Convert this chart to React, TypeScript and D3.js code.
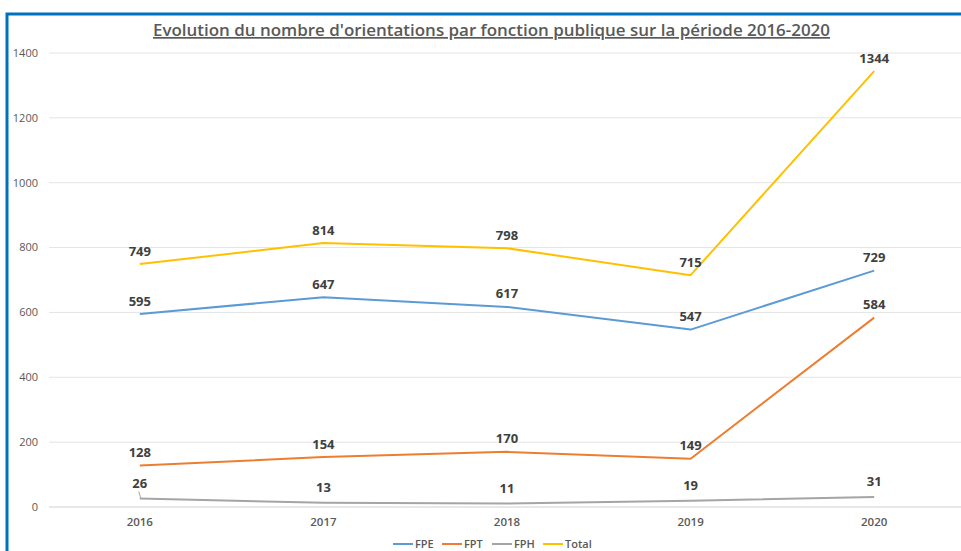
import React from "react";
import * as d3 from "d3";

const years = ["2016", "2017", "2018", "2019", "2020"];
const fpe = [595, 647, 617, 547, 729];
const fpt = [128, 154, 170, 149, 584];
const fph = [26, 13, 11, 19, 31];
const total = [749, 814, 798, 715, 1344];
const yTicks = [0, 200, 400, 600, 800, 1000, 1200, 1400];
const seriesNames = ["FPE", "FPT", "FPH", "Total"];
const seriesColors = ["#5B9BD5", "#ED7D31", "#A5A5A5", "#FFC000"];

const W = 961;
const H = 551;
const FONT = "'Open Sans', sans-serif";

export default function App() {
  const x = d3.scaleBand<string>().domain(years).range([48, 966]);
  const y = d3.scaleLinear().domain([0, 1400]).range([507, 53]);
  const cx = (yr: string) => (x(yr) as number) + x.bandwidth() / 2;
  const line = d3
    .line<number>()
    .x((_, i) => cx(years[i]))
    .y((d) => y(d));
  const allSeries = [fpe, fpt, fph, total];

  const legendX = [393, 442, 492, 543];

  return (
    <svg
      width={W}
      height={H}
      style={{ position: "absolute", left: 0, top: 0, background: "#fff" }}
      fontFamily={FONT}
    >
      <rect x={0} y={0} width={W} height={H} fill="#fff" />
      {/* blue frame */}
      <path d={`M7,${H + 5} V14 H${W + 5}`} fill="none" stroke="#0070C0" strokeWidth={3} />

      {/* title */}
      <text
        x={491.5}
        y={36}
        textAnchor="middle"
        fontSize={17}
        fontWeight={600}
        fill="#595959"
        textDecoration="underline"
        textLength={677}
        lengthAdjust="spacingAndGlyphs"
      >
        Evolution du nombre d'orientations par fonction publique sur la période 2016-2020
      </text>

      {/* gridlines */}
      {yTicks.map((t) => (
        <g key={t}>
          <line x1={49} x2={W} y1={y(t)} y2={y(t)} stroke={t === 0 ? "#D0D0D0" : "#E4E4E4"} strokeWidth={1} />
          <text x={38} y={y(t)} dy="0.35em" textAnchor="end" fontSize={11} fill="#595959">
            {t}
          </text>
        </g>
      ))}

      {/* x labels */}
      {years.map((yr) => (
        <text key={yr} x={cx(yr)} y={522} dy="0.35em" textAnchor="middle" fontSize={11.5} fontWeight={600} fill="#595959">
          {yr}
        </text>
      ))}

      {/* lines */}
      {allSeries.map((s, i) => (
        <path key={i} d={line(s) as string} fill="none" stroke={seriesColors[i]} strokeWidth={2} strokeLinejoin="round" />
      ))}

      {/* leader for FPH 2016 */}
      <path
        d={`M${cx(years[0]) - 1},${y(fph[0]) - 7} L${cx(years[0]) + 1},${y(fph[0])}`}
        fill="none"
        stroke="#A5A5A5"
        strokeWidth={1}
      />

      {/* data labels */}
      {allSeries.map((s, i) =>
        s.map((v, j) => (
          <text
            key={`${i}-${j}`}
            x={cx(years[j])}
            y={y(v) - (i === 2 ? 15 : 13)}
            dy="0.35em"
            textAnchor="middle"
            fontSize={13}
            fontWeight={700}
            fill="#404040"
          >
            {v}
          </text>
        ))
      )}

      {/* legend */}
      {seriesNames.map((n, i) => (
        <g key={n}>
          <line x1={legendX[i]} x2={legendX[i] + 20} y1={544} y2={544} stroke={seriesColors[i]} strokeWidth={2} />
          <text x={legendX[i] + 22} y={544} dy="0.35em" fontSize={11} fontWeight={600} fill="#595959">
            {n}
          </text>
        </g>
      ))}
    </svg>
  );
}
